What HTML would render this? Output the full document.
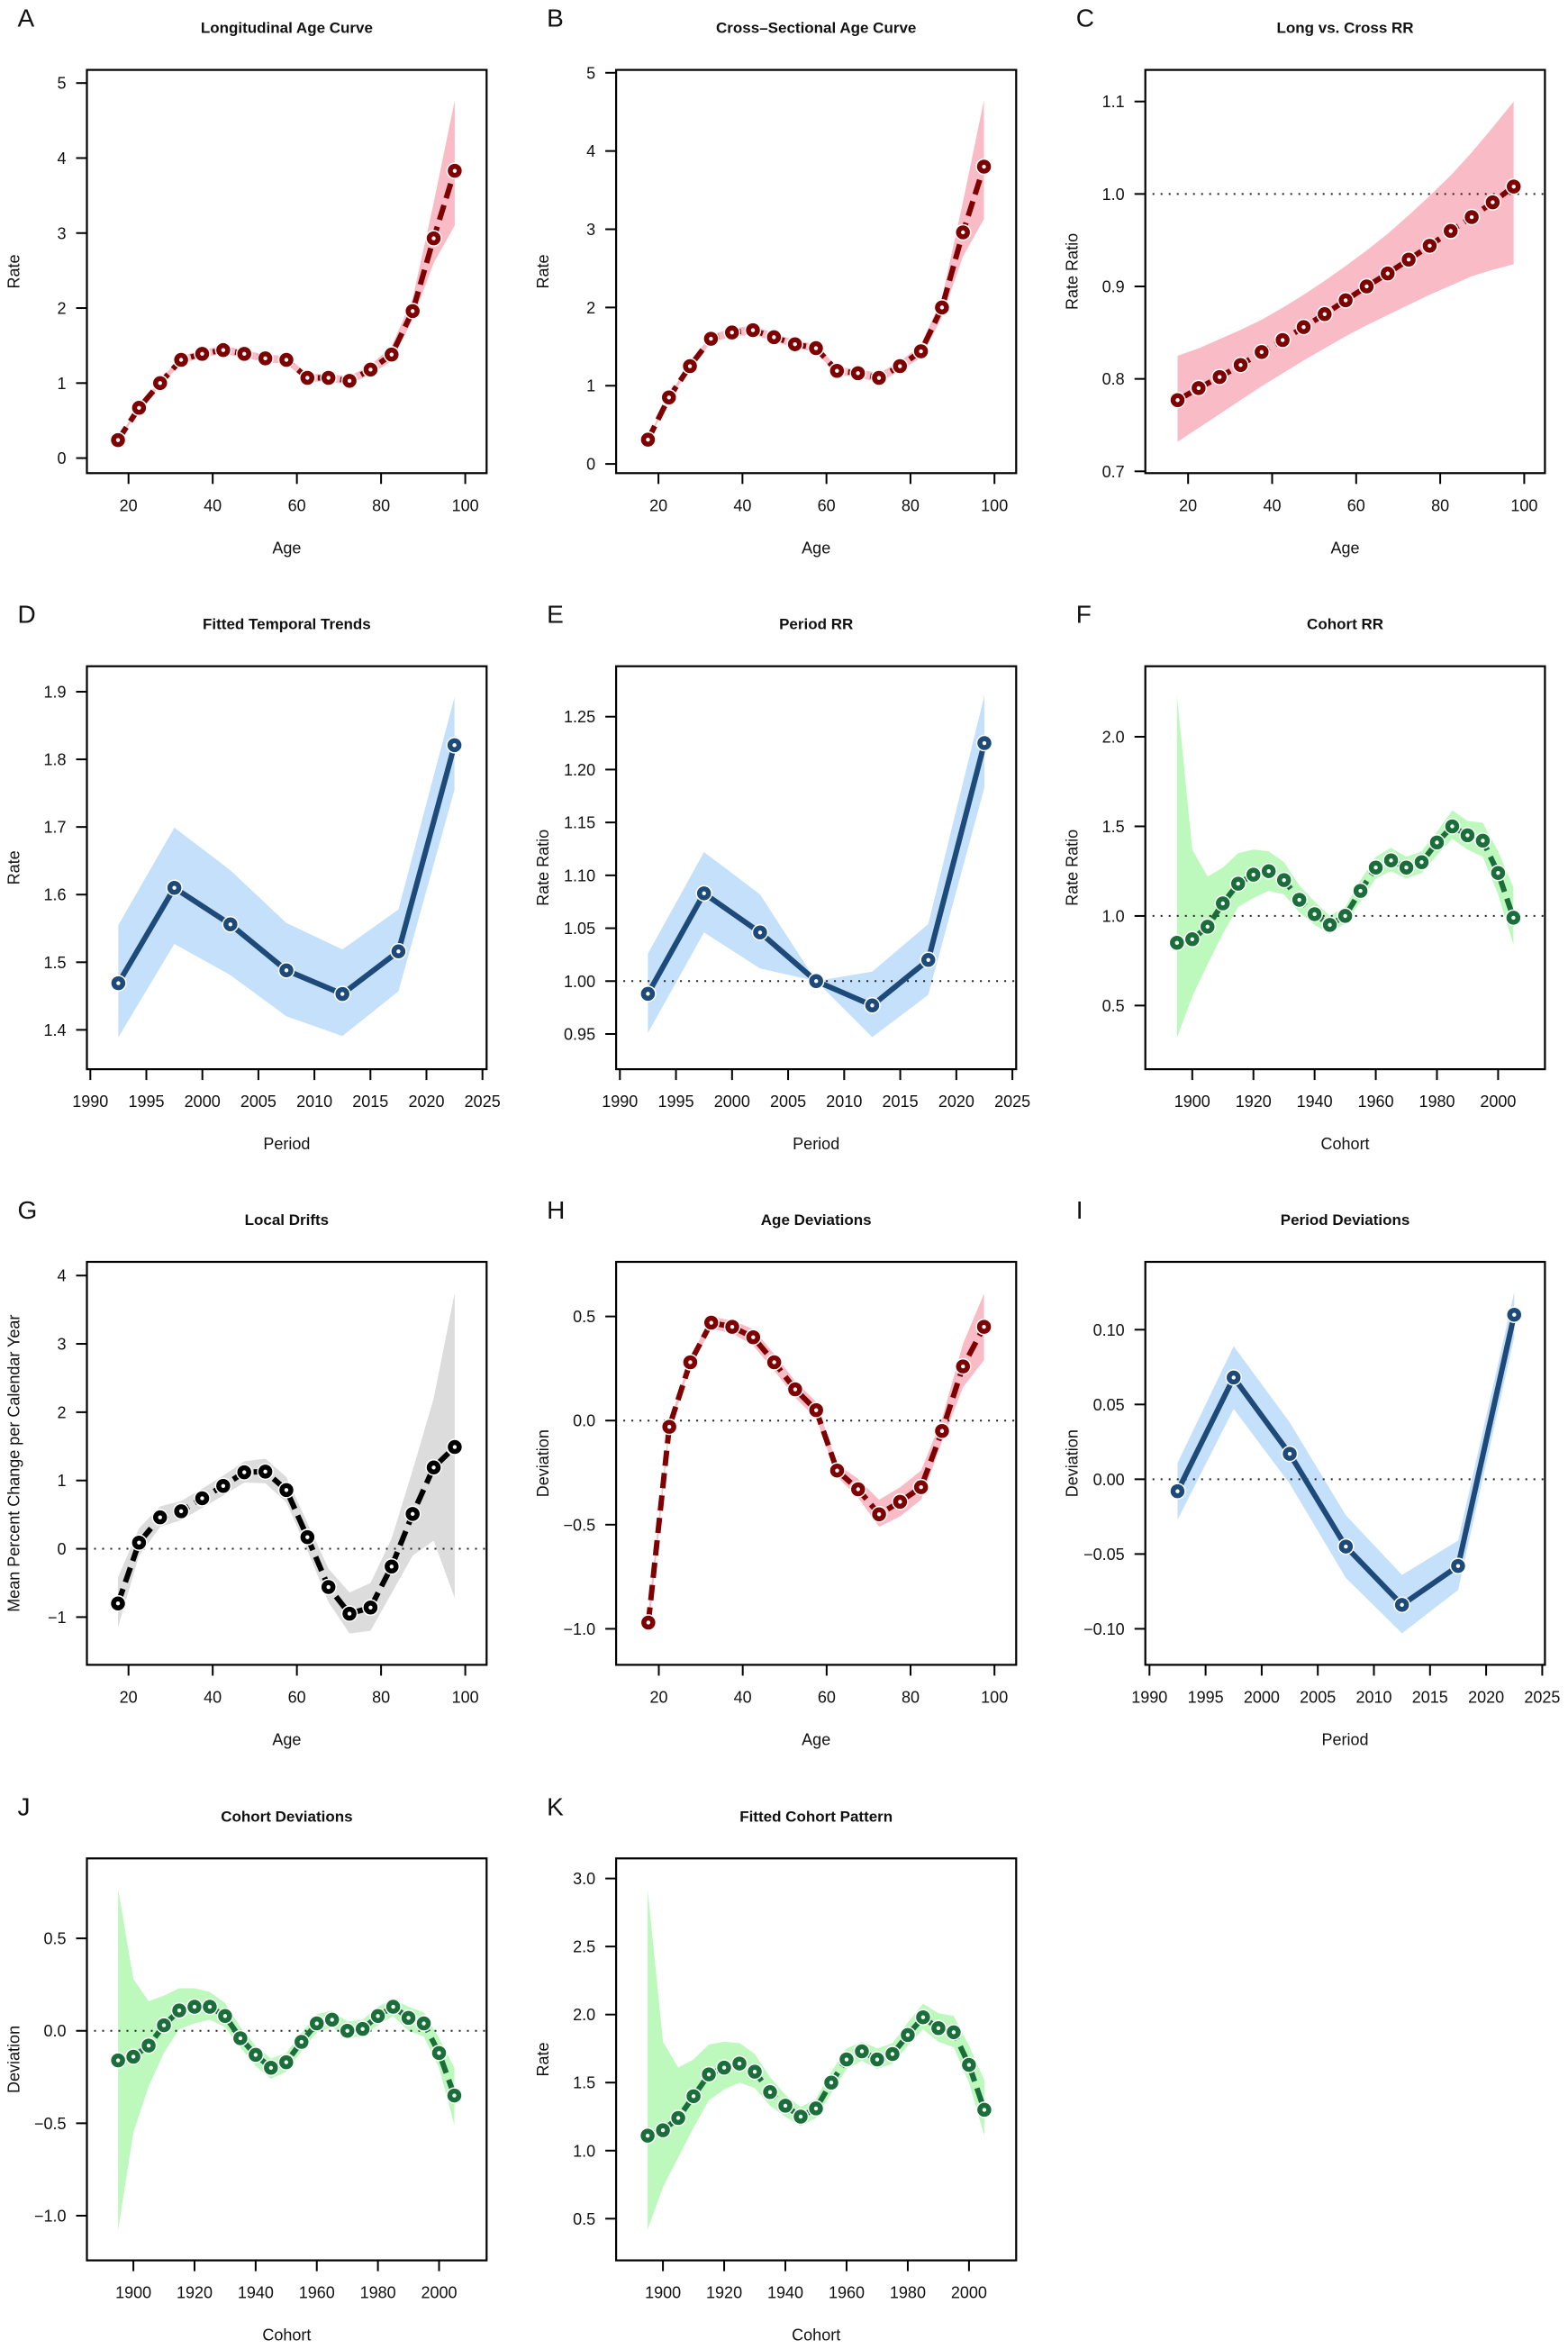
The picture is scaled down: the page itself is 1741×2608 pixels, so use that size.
<!DOCTYPE html>
<html><head><meta charset="utf-8"><title>APC model panels</title>
<style>
html,body{margin:0;padding:0;background:#fff;}
svg{display:block;font-family:"Liberation Sans",Arial,sans-serif;}
</style></head>
<body>
<svg id="fig" width="1741" height="2608" viewBox="0 0 1741 2608" xmlns="http://www.w3.org/2000/svg"></svg>
<script>
// ---------- data ----------
const ageX = [17.5,22.5,27.5,32.5,37.5,42.5,47.5,52.5,57.5,62.5,67.5,72.5,77.5,82.5,87.5,92.5,97.5];
const periodX = [1992.5,1997.5,2002.5,2007.5,2012.5,2017.5,2022.5];
const cohortX = [1895,1900,1905,1910,1915,1920,1925,1930,1935,1940,1945,1950,1955,1960,1965,1970,1975,1980,1985,1990,1995,2000,2005];

const aVal = [0.24,0.67,1.0,1.31,1.39,1.44,1.39,1.33,1.31,1.07,1.07,1.03,1.18,1.38,1.96,2.93,3.83];
const aLo  = [0.22,0.64,0.96,1.26,1.34,1.39,1.34,1.28,1.26,1.02,1.02,0.98,1.12,1.29,1.85,2.6,3.1];
const aHi  = [0.26,0.70,1.04,1.36,1.44,1.50,1.44,1.38,1.36,1.12,1.12,1.09,1.24,1.49,2.13,3.4,4.77];

const bVal = [0.31,0.85,1.25,1.6,1.68,1.71,1.62,1.53,1.48,1.19,1.16,1.10,1.25,1.44,2.0,2.96,3.8];
const bLo  = [0.29,0.82,1.21,1.55,1.63,1.65,1.57,1.48,1.43,1.14,1.11,1.04,1.19,1.36,1.88,2.65,3.13];
const bHi  = [0.33,0.88,1.29,1.65,1.73,1.77,1.67,1.58,1.53,1.24,1.21,1.16,1.31,1.52,2.12,3.35,4.65];

const cVal = [0.777,0.790,0.802,0.815,0.829,0.842,0.856,0.870,0.885,0.900,0.914,0.929,0.944,0.960,0.975,0.991,1.008];
const cLo  = [0.732,0.747,0.762,0.777,0.792,0.806,0.820,0.833,0.846,0.858,0.869,0.880,0.891,0.901,0.911,0.918,0.924];
const cHi  = [0.825,0.833,0.843,0.853,0.864,0.877,0.891,0.906,0.922,0.939,0.957,0.977,0.998,1.02,1.045,1.072,1.10];

const dVal = [1.469,1.610,1.556,1.488,1.453,1.516,1.821];
const dLo  = [1.389,1.527,1.481,1.420,1.391,1.457,1.755];
const dHi  = [1.555,1.699,1.636,1.558,1.519,1.578,1.892];

const eVal = [0.988,1.083,1.046,1.0,0.977,1.020,1.225];
const eLo  = [0.951,1.046,1.012,1.0,0.947,0.987,1.183];
const eHi  = [1.026,1.122,1.082,1.0,1.009,1.054,1.270];

const fVal = [0.85,0.87,0.94,1.07,1.18,1.23,1.25,1.20,1.09,1.01,0.95,1.00,1.14,1.27,1.31,1.27,1.30,1.41,1.50,1.45,1.42,1.24,0.99];
const fLo  = [0.32,0.55,0.73,0.90,1.05,1.10,1.14,1.12,1.02,0.95,0.90,0.96,1.08,1.21,1.25,1.21,1.24,1.34,1.43,1.37,1.33,1.12,0.84];
const fHi  = [2.23,1.37,1.22,1.27,1.35,1.37,1.36,1.30,1.17,1.08,1.00,1.05,1.20,1.33,1.38,1.33,1.36,1.47,1.59,1.53,1.52,1.36,1.16];

const gVal = [-0.8,0.09,0.46,0.55,0.74,0.92,1.12,1.13,0.86,0.17,-0.56,-0.95,-0.86,-0.26,0.51,1.19,1.49];
const gLo  = [-1.15,-0.1,0.32,0.42,0.60,0.78,0.97,0.96,0.68,-0.02,-0.78,-1.24,-1.20,-0.65,-0.1,0.12,-0.72];
const gHi  = [-0.42,0.30,0.62,0.70,0.88,1.07,1.28,1.32,1.05,0.38,-0.29,-0.64,-0.5,0.15,1.15,2.2,3.75];

const hVal = [-0.97,-0.03,0.28,0.47,0.45,0.40,0.28,0.15,0.05,-0.24,-0.33,-0.45,-0.39,-0.32,-0.05,0.26,0.45];
const hLo  = [-1.02,-0.05,0.26,0.44,0.42,0.36,0.24,0.11,0.01,-0.27,-0.37,-0.51,-0.46,-0.38,-0.10,0.16,0.29];
const hHi  = [-0.92,-0.01,0.30,0.50,0.48,0.44,0.32,0.19,0.09,-0.21,-0.28,-0.38,-0.32,-0.24,0.01,0.37,0.61];

const iVal = [-0.008,0.068,0.017,-0.045,-0.084,-0.058,0.110];
const iLo  = [-0.027,0.047,-0.003,-0.066,-0.103,-0.074,0.095];
const iHi  = [0.011,0.089,0.038,-0.024,-0.064,-0.041,0.125];

const jVal = [-0.16,-0.14,-0.08,0.03,0.11,0.13,0.13,0.08,-0.04,-0.13,-0.2,-0.17,-0.06,0.04,0.06,0.0,0.01,0.08,0.13,0.07,0.04,-0.12,-0.35];
const jLo  = [-1.08,-0.55,-0.3,-0.12,0.01,0.04,0.06,0.02,-0.09,-0.19,-0.26,-0.22,-0.11,-0.01,0.02,-0.04,-0.03,0.03,0.08,0.0,-0.03,-0.2,-0.51];
const jHi  = [0.77,0.28,0.16,0.19,0.23,0.23,0.21,0.15,0.02,-0.08,-0.15,-0.12,-0.01,0.09,0.11,0.05,0.06,0.13,0.17,0.13,0.10,-0.04,-0.20];

const kVal = [1.11,1.15,1.24,1.40,1.56,1.61,1.64,1.58,1.43,1.33,1.25,1.31,1.50,1.67,1.73,1.67,1.71,1.85,1.98,1.90,1.87,1.63,1.30];
const kLo  = [0.42,0.73,0.95,1.17,1.37,1.45,1.50,1.46,1.33,1.25,1.18,1.24,1.42,1.60,1.66,1.60,1.64,1.77,1.89,1.80,1.76,1.50,1.11];
const kHi  = [2.92,1.80,1.61,1.67,1.78,1.80,1.79,1.71,1.54,1.41,1.32,1.38,1.58,1.75,1.80,1.75,1.79,1.94,2.08,2.01,1.99,1.77,1.52];

const ageTicks = [20,40,60,80,100];
const periodTicks = [1990,1995,2000,2005,2010,2015,2020,2025];
const cohortTicks = [1900,1920,1940,1960,1980,2000];
const aYTicks = [0,1,2,3,4,5];
const cYTicks = [0.7,0.8,0.9,1.0,1.1];
const dYTicks = [1.4,1.5,1.6,1.7,1.8,1.9];
const eYTicks = [0.95,1.00,1.05,1.10,1.15,1.20,1.25];
const fYTicks = [0.5,1.0,1.5,2.0];
const gYTicks = [-1,0,1,2,3,4];
const hYTicks = [-1.0,-0.5,0.0,0.5];
const iYTicks = [-0.10,-0.05,0.00,0.05,0.10];
const jYTicks = [-1.0,-0.5,0.0,0.5];
const kYTicks = [0.5,1.0,1.5,2.0,2.5,3.0];

// ---------- styles ----------
const RED = {line:'#7f0000', band:'#f9bcc6', dash:'17 8'};
const BLUE = {line:'#1d4a78', band:'#c4e0fb', dash:'none'};
const GREEN = {line:'#1a6e3a', band:'#bdf8bd', dash:'17 8'};
const BLACK = {line:'#000000', band:'#dcdcdc', dash:'17 8'};

const panels = [
 {letter:'A',title:'Longitudinal Age Curve',xlab:'Age',ylab:'Rate',box:[96.5,77.6,540.3,525.3],xc:[20,142.7,100,516.6],yc:[0,508.6,5,92.2],x:ageX,v:aVal,lo:aLo,hi:aHi,xt:ageTicks,yt:aYTicks,dec:0,st:RED,ref:null},
 {letter:'B',title:'Cross\u2013Sectional Age Curve',xlab:'Age',ylab:'Rate',box:[684.1,77.6,1128.3,525.3],xc:[20,731.1,100,1104.2],yc:[0,515.1,5,80.8],x:ageX,v:bVal,lo:bLo,hi:bHi,xt:ageTicks,yt:aYTicks,dec:0,st:RED,ref:null},
 {letter:'C',title:'Long vs. Cross RR',xlab:'Age',ylab:'Rate Ratio',box:[1271.7,77.6,1715.4,525.3],xc:[20,1319.2,100,1692.4],yc:[0.7,523.3,1.1,112.7],x:ageX,v:cVal,lo:cLo,hi:cHi,xt:ageTicks,yt:cYTicks,dec:1,st:RED,ref:1},
 {letter:'D',title:'Fitted Temporal Trends',xlab:'Period',ylab:'Rate',box:[96.5,739.7,540.3,1187.1],xc:[1990,100.3,2025,535.7],yc:[1.4,1143.4,1.9,768],x:periodX,v:dVal,lo:dLo,hi:dHi,xt:periodTicks,yt:dYTicks,dec:1,st:BLUE,ref:null},
 {letter:'E',title:'Period RR',xlab:'Period',ylab:'Rate Ratio',box:[684.1,739.7,1128.3,1187.1],xc:[1990,688.3,2025,1124.1],yc:[0.95,1148,1.25,795.7],x:periodX,v:eVal,lo:eLo,hi:eHi,xt:periodTicks,yt:eYTicks,dec:2,st:BLUE,ref:1},
 {letter:'F',title:'Cohort RR',xlab:'Cohort',ylab:'Rate Ratio',box:[1271.7,739.7,1715.4,1187.1],xc:[1900,1323.8,2000,1663.4],yc:[0.5,1116.4,2.0,818],x:cohortX,v:fVal,lo:fLo,hi:fHi,xt:cohortTicks,yt:fYTicks,dec:1,st:GREEN,ref:1},
 {letter:'G',title:'Local Drifts',xlab:'Age',ylab:'Mean Percent Change per Calendar Year',box:[96.5,1401,540.3,1848.4],xc:[20,142.7,100,516.6],yc:[-1,1795.4,4,1416.2],x:ageX,v:gVal,lo:gLo,hi:gHi,xt:ageTicks,yt:gYTicks,dec:0,st:BLACK,ref:0},
 {letter:'H',title:'Age Deviations',xlab:'Age',ylab:'Deviation',box:[684.1,1401,1128.3,1848.4],xc:[20,731.5,100,1104.2],yc:[-1,1808.4,0.5,1461.6],x:ageX,v:hVal,lo:hLo,hi:hHi,xt:ageTicks,yt:hYTicks,dec:1,st:RED,ref:0},
 {letter:'I',title:'Period Deviations',xlab:'Period',ylab:'Deviation',box:[1271.7,1401,1715.4,1848.4],xc:[1990,1276.3,2025,1712.4],yc:[-0.10,1808.4,0.10,1476.3],x:periodX,v:iVal,lo:iLo,hi:iHi,xt:periodTicks,yt:iYTicks,dec:2,st:BLUE,ref:0},
 {letter:'J',title:'Cohort Deviations',xlab:'Cohort',ylab:'Deviation',box:[96.5,2063.3,540.3,2509.6],xc:[1900,148.1,2000,487.5],yc:[-1,2460,0.5,2152.1],x:cohortX,v:jVal,lo:jLo,hi:jHi,xt:cohortTicks,yt:jYTicks,dec:1,st:GREEN,ref:0},
 {letter:'K',title:'Fitted Cohort Pattern',xlab:'Cohort',ylab:'Rate',box:[684.1,2063.3,1128.3,2509.6],xc:[1900,736.1,2000,1075.9],yc:[0.5,2463.3,3.0,2085.6],x:cohortX,v:kVal,lo:kLo,hi:kHi,xt:cohortTicks,yt:kYTicks,dec:1,st:GREEN,ref:null}
];

const NS = 'http://www.w3.org/2000/svg';
const svg = document.getElementById('fig');
function mk(tag, attrs, parent, text){
  const e = document.createElementNS(NS, tag);
  for (const k in attrs) e.setAttribute(k, attrs[k]);
  if (text !== undefined) e.textContent = text;
  parent.appendChild(e);
  return e;
}
function fmt(v, d){ const s = Math.abs(v).toFixed(d); return (v < 0 ? '\u2212' : '') + s; }

panels.forEach(p => {
  const g = mk('g', {}, svg);
  
  
  const [x0,y0,x1,y1] = p.box;
  const sx = v => p.xc[1] + (v - p.xc[0]) * (p.xc[3]-p.xc[1])/(p.xc[2]-p.xc[0]);
  const sy = v => p.yc[1] + (v - p.yc[0]) * (p.yc[3]-p.yc[1])/(p.yc[2]-p.yc[0]);
  const cx = (x0+x1)/2, cy = (y0+y1)/2;

  const lt = mk('text', {x: x0-77, y: y0-48, 'font-size':28, fill:'#111'}, g, p.letter);
  
  
  const tt = mk('text', {x: cx, y: y0-41, 'font-size':17, 'font-weight':'bold', 'text-anchor':'middle', fill:'#111'}, g, p.title);
  
  

  let d = '';
  p.x.forEach((xv,i)=>{ d += (i?'L':'M') + sx(xv).toFixed(1) + ',' + sy(p.hi[i]).toFixed(1); });
  for (let i=p.x.length-1;i>=0;i--) d += 'L' + sx(p.x[i]).toFixed(1) + ',' + sy(p.lo[i]).toFixed(1);
  const band = mk('path', {d: d+'Z', fill: p.st.band, stroke:'none'}, g);
  
  

  if (p.ref !== null){
    const rl = mk('line', {x1:x0+8, x2:x1, y1:sy(p.ref), y2:sy(p.ref), stroke:'#222', 'stroke-width':2, 'stroke-dasharray':'2 7'}, g);
    
    
  }

  let ld = '';
  p.x.forEach((xv,i)=>{ ld += (i?'L':'M') + sx(xv).toFixed(1) + ',' + sy(p.v[i]).toFixed(1); });
  const line = mk('path', {d: ld, fill:'none', stroke:p.st.line, 'stroke-width':6, 'stroke-dasharray':p.st.dash, 'stroke-linejoin':'round'}, g);
  
  

  p.x.forEach((xv,i)=>{
    const c = mk('circle', {cx:sx(xv), cy:sy(p.v[i]), r:8.5, fill:p.st.line, stroke:'#fff', 'stroke-width':1.5}, g);
    
    
    mk('circle', {cx:sx(xv), cy:sy(p.v[i]), r:2.2, fill:'#fff'}, g);
  });

  const bx = mk('rect', {x:x0, y:y0, width:x1-x0, height:y1-y0, fill:'none', stroke:'#000', 'stroke-width':2.2}, g);
  
  

  p.xt.forEach(t=>{
    const px = sx(t);
    mk('line', {x1:px, x2:px, y1:y1, y2:y1+12, stroke:'#000', 'stroke-width':2}, g);
    const tl = mk('text', {x:px, y:y1+42, 'font-size':18, 'text-anchor':'middle', fill:'#111'}, g, String(t));
    
    
  });
  p.yt.forEach(t=>{
    const py = sy(t);
    mk('line', {x1:x0-12, x2:x0, y1:py, y2:py, stroke:'#000', 'stroke-width':2}, g);
    const tl = mk('text', {x:x0-23, y:py+6.5, 'font-size':18, 'text-anchor':'end', fill:'#111'}, g, fmt(t, p.dec));
    
    
  });
  const xl = mk('text', {x:cx, y:y1+89, 'font-size':18, 'text-anchor':'middle', fill:'#111'}, g, p.xlab);
  
  
  const yl = mk('text', {x:0, y:0, 'font-size':18, 'text-anchor':'middle', fill:'#111', transform:'translate(' + (x0-75) + ',' + cy + ') rotate(-90)'}, g, p.ylab);
  
  
});
</script>
</body></html>
